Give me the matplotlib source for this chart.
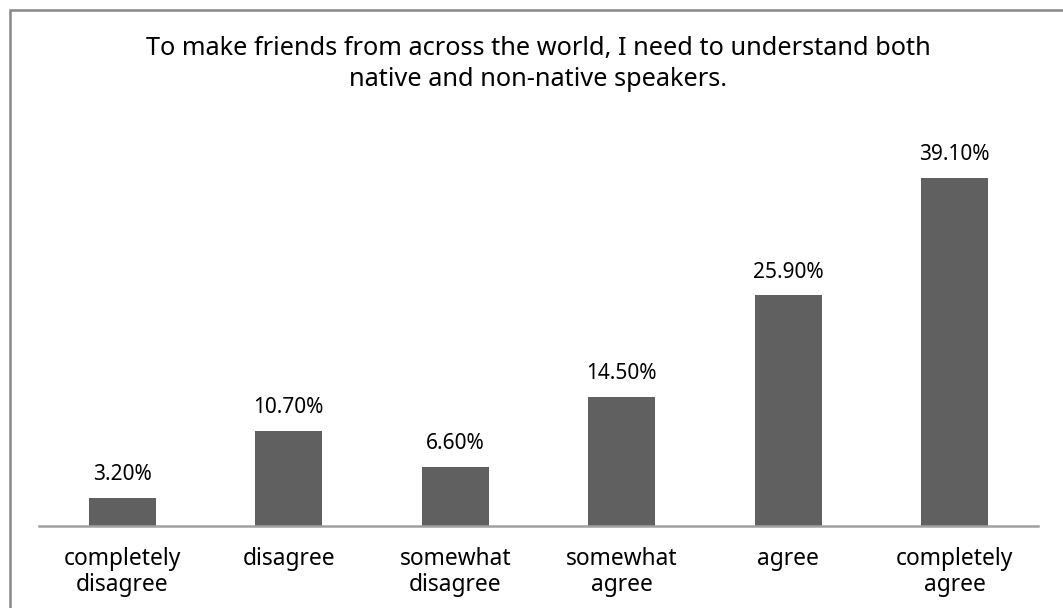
import matplotlib.pyplot as plt
from matplotlib.patches import Rectangle

categories = ['completely\ndisagree', 'disagree', 'somewhat\ndisagree',
              'somewhat\nagree', 'agree', 'completely\nagree']
percentages = [3.2, 10.7, 6.6, 14.5, 25.9, 39.1]
title_lines = ['To make friends from across the world, I need to understand both',
               'native and non-native speakers.']

plt.rcParams['font.family'] = ['Noto Sans', 'DejaVu Sans']

W, H = 1063, 608
fig = plt.figure(figsize=(W / 100, H / 100), dpi=100, facecolor='white')

# axes placed in pixel terms: x from 39 to 1038, baseline at y=526
left, right, bottom = 39, 1038, 526
ymax = 45.0
px_per_unit = 8.9
top = bottom - ymax * px_per_unit
ax = fig.add_axes([left / W, 1 - bottom / H, (right - left) / W,
                   (bottom - top) / H])

x = list(range(len(categories)))
bars = ax.bar(x, percentages, width=0.4, color='#606060')
for b, v in zip(bars, percentages):
    ax.text(b.get_x() + b.get_width() / 2, v + 2.0, f'{v:.2f}%',
            ha='center', va='baseline', fontsize=15, color='#000000')

ax.set_xlim(-0.5, len(categories) - 0.5)
ax.set_ylim(0, ymax)
ax.set_xticks(x)
ax.set_xticklabels(categories, fontsize=16.4, color='#000000',
                   linespacing=1.13)
ax.tick_params(axis='x', length=0, pad=15)
ax.set_yticks([])
for pos in ['top', 'left', 'right']:
    ax.spines[pos].set_visible(False)
ax.spines['bottom'].set_color('#A0A0A0')
ax.spines['bottom'].set_linewidth(1.8)
ax.set_facecolor('none')

# two-line title, each line set on its own baseline
for line, y_px in zip(title_lines, [55, 86]):
    fig.text(538 / W, 1 - y_px / H, line, ha='center', va='baseline',
             fontsize=18.2, color='#000000')

# outer frame of the chart area
fig.patches.append(Rectangle((10 / W, -0.1), 1.2, 1 - 10 / H + 0.1,
                             transform=fig.transFigure, fill=False,
                             edgecolor='#888888', linewidth=1.8))

fig.savefig('out.png', dpi=100, facecolor='white')
